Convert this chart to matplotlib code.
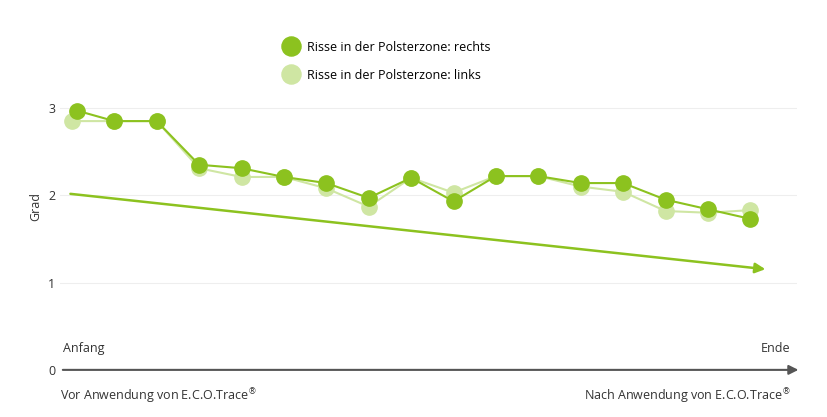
import matplotlib
matplotlib.use("Agg")
import matplotlib.pyplot as plt

plt.rcParams['font.family'] = ['Open Sans', 'DejaVu Sans']

steps = list(range(17))
rechts = [2.97, 2.85, 2.85, 2.35, 2.31, 2.21, 2.14, 1.97, 2.20, 1.93, 2.22, 2.22, 2.14, 2.14, 1.95, 1.84, 1.73]
links = [2.85, 2.85, 2.85, 2.31, 2.21, 2.21, 2.08, 1.87, 2.20, 2.03, 2.22, 2.22, 2.10, 2.04, 1.82, 1.80, 1.83]
trend_y = [2.02, 1.15]
yticks = [0, 1, 2, 3]

dark = '#8cc21f'
light = '#cfe6a3'

fig = plt.figure(figsize=(8.28, 4.17), dpi=100)
ax = fig.add_axes([0.0725, 0.113, 0.89, 0.785])
ax.set_xlim(-0.28, 17.1)
ax.set_ylim(0, 3.75)

for y in yticks[1:]:
    ax.axhline(y, color='#eeeeee', lw=0.8, zorder=0)

ax.plot(steps, links, color=light, lw=1.5, marker='o', ms=11, zorder=2,
        label='Risse in der Polsterzone: links')
xs_r = [0.12] + steps[1:]
ax.plot(xs_r, rechts, color=dark, lw=1.5, marker='o', ms=11, zorder=3,
        label='Risse in der Polsterzone: rechts')

ax.annotate('', xy=(16.42, trend_y[1]), xytext=(-0.1, trend_y[0]),
            arrowprops=dict(arrowstyle='-|>', color=dark, lw=1.8, mutation_scale=15))
ax.annotate('', xy=(17.2, 0), xytext=(-0.28, 0),
            arrowprops=dict(arrowstyle='-|>', color='#555555', lw=1.5, mutation_scale=14),
            annotation_clip=False)

for s in ax.spines.values():
    s.set_visible(False)
ax.set_xticks([])
ax.set_yticks(yticks)
ax.tick_params(axis='y', length=0, labelsize=9, colors='#333333')
ax.set_ylabel('Grad', fontsize=9, color='#333333')

ax.text(-0.2, 0.2, 'Anfang', fontsize=9, color='#333333')
ax.text(16.95, 0.2, 'Ende', fontsize=9, color='#333333', ha='right')
ax.text(-0.28, -0.3, 'Vor Anwendung von E.C.O.Trace$^{®}$', fontsize=9, color='#333333', va='center')
ax.text(16.95, -0.3, 'Nach Anwendung von E.C.O.Trace$^{®}$', fontsize=9, color='#333333', va='center', ha='right')

h, l = ax.get_legend_handles_labels()
ax.legend(h[::-1], l[::-1], loc='upper left', bbox_to_anchor=(0.29, 1.04), frameon=False,
          fontsize=9, labelspacing=1.2, handlelength=1.0, markerscale=1.25)

fig.savefig('out.png')
